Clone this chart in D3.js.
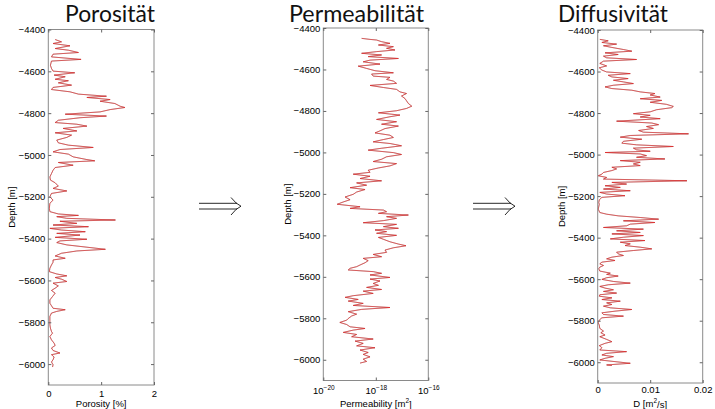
<!DOCTYPE html>
<html>
<head>
<meta charset="utf-8">
<script src="https://cdn.jsdelivr.net/npm/d3@7"></script>
<style>
    body { margin: 0; background: #fff; }
    text { font-family: "Liberation Sans", Arial, sans-serif; }
</style>
</head>
<body>
<div id="chart"></div>
<script>
// depth in m, value per panel
const porosityDepth = [-4448,-4459,-4467,-4478,-4491,-4499,-4510,-4518,-4531,-4543,-4551,-4571,-4586,-4599,-4607,-4618,-4626,-4638,-4645,-4655,-4666,-4677,-4687,-4698,-4709,-4719,-4725,-4735,-4743,-4754,-4767,-4773,-4783,-4794,-4805,-4814,-4822,-4834,-4845,-4853,-4862,-4873,-4885,-4894,-4905,-4916,-4929,-4942,-4953,-4964,-4974,-4985,-4996,-5009,-5022,-5028,-5036,-5049,-5060,-5073,-5089,-5105,-5120,-5133,-5149,-5160,-5172,-5184,-5200,-5216,
    -5231,-5255,-5271,-5282,-5289,-5295,-5303,-5311,-5317,-5327,-5335,-5343,-5351,-5359,-5367,-5375,-5383,-5394,-5403,-5411,-5419,-5430,-5441,-5451,-5459,-5470,-5483,-5494,-5502,-5513,-5526,-5542,-5558,-5569,-5578,-5586,-5594,-5605,-5613,-5626,-5637,-5648,-5661,-5677,-5693,-5709,-5721,-5733,-5740,-5748,-5756,-5772,-5791,-5812,-5828,-5844,-5852,-5868,-5884,-5900,-5911,-5923,-5935,-5947,-5955,-5966,-5979,-5990,-6003,-6014];
const porosity = [0.13,0.25,0.09,0.41,0.13,0.38,0.57,0.09,0.06,0.62,0.06,0.04,0.06,0.09,0.50,0.11,0.32,0.13,0.38,0.19,0.44,0.09,0.06,0.41,0.57,1.10,0.73,1.17,0.98,1.26,1.36,1.45,1.17,0.98,0.32,1.10,0.60,0.19,0.13,0.54,0.73,0.28,0.54,0.13,0.44,0.35,0.16,0.19,0.38,0.85,0.22,0.09,0.38,0.47,0.73,0.88,0.19,0.47,0.13,0.09,0.06,0.03,0.04,0.13,0.19,0.09,0.35,0.06,0.03,0.09,
    0.03,0.02,0.03,0.19,0.57,0.16,0.35,1.27,0.22,0.54,0.09,0.76,0.03,0.25,0.70,0.16,0.60,0.13,0.73,0.22,0.16,0.35,0.73,1.08,0.54,0.25,0.13,0.32,0.09,0.09,0.06,0.03,0.02,0.16,0.35,0.13,0.25,0.35,0.09,0.19,0.13,0.06,0.13,0.08,0.03,0.03,0.06,0.09,0.32,0.16,0.06,0.03,0.03,0.03,0.04,0.06,0.08,0.03,0.06,0.11,0.13,0.06,0.09,0.22,0.06,0.11,0.09,0.06,0.09,0.08];

const permDepth = [-4450,-4455,-4458,-4466,-4474,-4482,-4490,-4498,-4506,-4514,-4522,-4530,-4538,-4547,-4555,-4563,-4574,-4584,-4595,-4606,-4616,-4622,-4632,-4638,-4648,-4656,-4667,-4677,-4687,-4696,-4708,-4716,-4728,-4740,-4751,-4764,-4777,-4788,-4799,-4809,-4820,-4828,-4841,-4852,-4864,-4873,-4885,-4896,-4906,-4917,-4928,-4938,-4949,-4957,-4968,-4980,-4989,-5001,-5010,-5021,-5033,-5044,-5054,-5065,-5075,-5086,-5096,-5105,-5115,-5126,-5137,-5147,-5158,-5170,-5179,-5191,-5202,-5215,-5228,-5239,-5250,
    -5262,-5270,-5278,-5286,-5294,-5302,-5310,-5318,-5329,-5339,-5347,-5358,-5366,-5374,-5382,-5390,-5400,-5410,-5419,-5431,-5442,-5450,-5460,-5471,-5482,-5492,-5503,-5511,-5522,-5532,-5543,-5551,-5559,-5567,-5575,-5583,-5591,-5603,-5611,-5620,-5632,-5641,-5651,-5661,-5669,-5680,-5691,-5699,-5709,-5717,-5728,-5738,-5748,-5757,-5768,-5780,-5789,-5801,-5809,-5820,-5830,-5841,-5849,-5857,-5868,-5878,-5889,-5900,-5910,-5921,-5933,-5942,-5953,-5965,-5974,-5986,-5997,-6008,-6016];
// log10 of permeability in m^2
const permLog10 = [-18.54,-18.22,-17.97,-17.78,-17.46,-17.90,-17.33,-17.59,-17.27,-17.97,-18.54,-17.78,-18.29,-17.14,-18.22,-18.48,-17.84,-18.67,-18.35,-18.03,-17.33,-18.16,-18.10,-17.46,-17.59,-17.33,-17.21,-18.22,-17.71,-17.21,-17.08,-16.83,-17.02,-16.89,-16.83,-16.76,-16.63,-16.83,-17.21,-17.90,-17.08,-17.46,-17.97,-17.21,-17.78,-17.14,-17.65,-17.84,-18.03,-17.46,-17.33,-17.71,-18.10,-17.46,-17.02,-17.78,-18.29,-17.33,-17.02,-17.59,-17.78,-18.10,-17.21,-17.46,-17.90,-18.29,-18.22,-18.86,-18.22,-18.60,-17.78,-18.73,-18.35,-18.98,-18.41,-18.73,-18.86,-19.17,-18.98,-19.24,-19.47,
    -18.60,-18.98,-17.71,-17.59,-17.90,-16.76,-17.59,-17.21,-17.71,-18.48,-17.21,-17.71,-17.14,-18.03,-17.59,-17.97,-17.21,-17.90,-17.71,-17.46,-17.14,-16.85,-17.33,-17.65,-17.59,-18.10,-17.78,-18.48,-18.29,-18.41,-18.60,-18.73,-18.98,-19.05,-18.10,-17.78,-18.22,-17.46,-18.22,-17.84,-18.10,-17.90,-18.35,-17.78,-18.48,-18.10,-18.86,-19.17,-18.67,-19.05,-18.48,-18.86,-17.46,-18.54,-19.05,-18.73,-18.92,-19.05,-19.11,-19.37,-19.11,-18.98,-18.41,-18.86,-19.24,-18.73,-18.92,-18.10,-18.79,-18.48,-18.73,-18.03,-18.60,-18.29,-18.48,-18.22,-18.48,-18.35,-18.60];

const diffDepth = [-4445,-4452,-4460,-4468,-4476,-4484,-4494,-4502,-4510,-4518,-4526,-4534,-4542,-4550,-4561,-4573,-4582,-4593,-4602,-4610,-4618,-4626,-4634,-4642,-4650,-4658,-4666,-4674,-4682,-4690,-4698,-4706,-4713,-4723,-4731,-4739,-4748,-4758,-4768,-4774,-4784,-4794,-4803,-4811,-4819,-4827,-4839,-4848,-4856,-4865,-4874,-4884,-4892,-4900,-4908,-4916,-4926,-4936,-4945,-4953,-4961,-4969,-4977,-4984,-4990,-4997,-5005,-5013,-5021,-5029,-5037,-5045,-5053,-5061,-5069,-5077,-5086,-5094,-5102,-5110,-5118,-5126,-5134,-5142,-5150,-5158,-5166,-5174,-5182,-5190,-5198,-5206,-5218,-5231,
    -5239,-5263,-5279,-5287,-5295,-5303,-5311,-5319,-5327,-5335,-5343,-5351,-5359,-5367,-5375,-5382,-5390,-5398,-5406,-5414,-5422,-5430,-5438,-5446,-5454,-5462,-5470,-5478,-5486,-5494,-5502,-5510,-5518,-5526,-5534,-5542,-5550,-5561,-5571,-5577,-5585,-5593,-5601,-5611,-5619,-5627,-5635,-5643,-5651,-5659,-5667,-5675,-5682,-5690,-5698,-5706,-5714,-5722,-5730,-5738,-5746,-5754,-5762,-5770,-5778,-5786,-5797,-5810,-5821,-5837,-5850,-5858,-5869,-5877,-5890,-5901,-5909,-5920,-5930,-5941,-5949,-5957,-5965,-5973,-5981,-5989,-5997,-6005,-6013,-6016];
// diffusivity in m^2/s
const diffusivity = [0.0004,0.0020,0.0008,0.0036,0.0011,0.0027,0.0049,0.0065,0.0014,0.0039,0.0011,0.0017,0.0074,0.0011,0.0004,0.0017,0.0003,0.0008,0.0017,0.0062,0.0020,0.0027,0.0058,0.0030,0.0049,0.0068,0.0030,0.0014,0.0027,0.0065,0.0081,0.0109,0.0100,0.0119,0.0081,0.0122,0.0100,0.0131,0.0144,0.0141,0.0112,0.0100,0.0068,0.0100,0.0081,0.0119,0.0036,0.0103,0.0116,0.0093,0.0106,0.0078,0.0087,0.0173,0.0062,0.0043,0.0084,0.0049,0.0046,0.0074,0.0144,0.0068,0.0074,0.0100,0.0014,0.0081,0.0093,0.0074,0.0128,0.0043,0.0081,0.0068,0.0081,0.0027,0.0036,0.0027,0.0011,0.0008,0.0001,0.0017,0.0011,0.0170,0.0027,0.0055,0.0014,0.0043,0.0011,0.0062,0.0004,0.0017,0.0052,0.0008,0.0003,0.0002,
    0.0003,0.0001,0.0004,0.0017,0.0039,0.0081,0.0116,0.0049,0.0109,0.0062,0.0055,0.0011,0.0087,0.0036,0.0081,0.0027,0.0087,0.0049,0.0024,0.0090,0.0043,0.0062,0.0052,0.0081,0.0103,0.0068,0.0036,0.0039,0.0049,0.0027,0.0017,0.0033,0.0008,0.0004,0.0011,0.0004,0.0002,0.0004,0.0024,0.0017,0.0039,0.0017,0.0008,0.0030,0.0062,0.0020,0.0004,0.0014,0.0030,0.0011,0.0036,0.0004,0.0003,0.0027,0.0008,0.0043,0.0017,0.0027,0.0011,0.0024,0.0065,0.0033,0.0008,0.0011,0.0049,0.0008,0.0003,0.0001,0.0003,0.0004,0.0011,0.0006,0.0014,0.0004,0.0017,0.0027,0.0014,0.0003,0.0008,0.0004,0.0055,0.0017,0.0008,0.0030,0.0014,0.0004,0.0033,0.0062,0.0017,0.0027];

const depthTicks = [-4400, -4600, -4800, -5000, -5200, -5400, -5600, -5800, -6000];
const porosityTicks = [0, 1, 2];
const permTicks = [1e-20, 1e-18, 1e-16];
const diffTicks = [0, 0.01, 0.02];

const width = 715, height = 409;
const fontSize = "9.5px";

const svg = d3
    .select("#chart")
    .append("svg")
    .attr("width", width)
    .attr("height", height);

function drawPanel(p) {
    const y = d3.scaleLinear().domain([-6100, -4400]).range([p.bottom, p.top]);
    const x = p.x.range([p.left, p.right]);
    const g = svg.append("g");

    const pts = p.depth.map((d, i) => ({ depth: d, v: p.values[i] }));
    const line = d3
        .line()
        .x((d) => x(p.map(d.v)))
        .y((d) => y(d.depth));

    // measured (black) below, model (red) on top
    g.append("path")
        .datum(pts)
        .attr("fill", "none")
        .attr("stroke", "#000")
        .attr("stroke-width", 0.35)
        .attr("d", line);
    g.append("path")
        .datum(pts)
        .attr("fill", "none")
        .attr("stroke", "#ff2020")
        .attr("stroke-width", 0.55)
        .attr("d", line);

    // box
    g.append("rect")
        .attr("x", p.left)
        .attr("y", p.top)
        .attr("width", p.right - p.left)
        .attr("height", p.bottom - p.top)
        .attr("fill", "none")
        .attr("stroke", "#8a8a8a")
        .attr("stroke-width", 1);

    g.append("g")
        .attr("transform", `translate(${p.left},0)`)
        .call(d3.axisLeft(y).tickValues(depthTicks).tickSizeInner(-3).tickSizeOuter(0).tickPadding(3).tickFormat(d3.format("d")));
    g.append("g")
        .attr("transform", `translate(${p.right},0)`)
        .call(d3.axisRight(y).tickValues(depthTicks).tickSizeInner(-3).tickSizeOuter(0).tickFormat(""));
    const xAxis = g
        .append("g")
        .attr("transform", `translate(0,${p.bottom})`)
        .call(d3.axisBottom(x).tickValues(p.ticks).tickSizeInner(-3).tickSizeOuter(0).tickPadding(p.pad).tickFormat(p.fmt || ""));
    g.append("g")
        .attr("transform", `translate(0,${p.top})`)
        .call(d3.axisTop(x).tickValues(p.ticks).tickSizeInner(-3).tickSizeOuter(0).tickFormat(""));

    g.selectAll(".domain").remove();
    g.selectAll(".tick line").attr("stroke", "#666");
    g.selectAll(".tick text")
        .attr("fill", "#000")
        .style("font-size", fontSize)
        .style("font-family", '"Liberation Sans", Arial, sans-serif');

    if (p.logLabels) {
        xAxis.selectAll(".tick text").each(function (d) {
            const t = d3.select(this).text(null);
            t.append("tspan").text("10");
            t.append("tspan")
                .attr("dy", "-0.6em")
                .style("font-size", "6.5px")
                .text("\u2212" + Math.round(-Math.log10(d)));
        });
    }

    // depth label
    g.append("text")
        .attr("transform", `translate(${p.ylabX},${(p.top + p.bottom) / 2}) rotate(-90)`)
        .attr("text-anchor", "middle")
        .style("font-size", fontSize)
        .text("Depth [m]");

    const xl = g
        .append("text")
        .attr("x", (p.left + p.right) / 2)
        .attr("y", 406.5)
        .attr("text-anchor", "middle")
        .style("font-size", fontSize);
    p.xlabel.forEach((s) => {
        const ts = xl.append("tspan").text(s.t);
        if (s.sup) ts.attr("dy", "-0.5em").style("font-size", "6.5px");
        if (s.after) ts.attr("dy", "0.5em");
    });

    svg.append("text")
        .attr("x", p.titleX)
        .attr("y", 21.5)
        .attr("textLength", p.titleW)
        .attr("lengthAdjust", "spacingAndGlyphs")
        .style("font-family", "Lato, 'Open Sans', sans-serif")
        .style("font-size", "23.5px")
        .attr("fill", "#111")
        .text(p.title);
}

drawPanel({
    title: "Porosität", titleX: 65, titleW: 90,
    left: 48.3, right: 154, top: 29.5, bottom: 385,
    depth: porosityDepth, values: porosity, map: (v) => v,
    x: d3.scaleLinear().domain([0, 2]), ticks: porosityTicks, fmt: d3.format("d"), pad: 5,
    ylabX: 14.5,
    xlabel: [{ t: "Porosity [%]" }],
});

drawPanel({
    title: "Permeabilität", titleX: 289, titleW: 135,
    left: 323.3, right: 428.3, top: 28, bottom: 380.5,
    depth: permDepth, values: permLog10, map: (v) => Math.pow(10, v),
    x: d3.scaleLog().domain([1e-20, 1e-16]), ticks: permTicks, fmt: () => "x", pad: 7, logLabels: true,
    ylabX: 290.5,
    xlabel: [{ t: "Permeability [m" }, { t: "2", sup: true }, { t: "]", after: true }],
});

drawPanel({
    title: "Diffusivität", titleX: 558, titleW: 110,
    left: 597.7, right: 702.7, top: 30, bottom: 383,
    depth: diffDepth, values: diffusivity, map: (v) => v,
    x: d3.scaleLinear().domain([0, 0.02]), ticks: diffTicks, fmt: (d) => (d === 0 ? "0" : d3.format(".2f")(d)), pad: 3.5,
    ylabX: 564.5,
    xlabel: [{ t: "D [m" }, { t: "2", sup: true }, { t: "/s]", after: true }],
});

// implication arrows between panels
[[199, 241], [473, 515]].forEach(([x0, x1]) => {
    const a = svg.append("g").attr("fill", "none").attr("stroke", "#111").attr("stroke-width", 0.9);
    a.append("line").attr("x1", x0).attr("x2", x1 - 4).attr("y1", 203.3).attr("y2", 203.3);
    a.append("line").attr("x1", x0).attr("x2", x1 - 4).attr("y1", 209).attr("y2", 209);
    a.append("path").attr("d", `M${x1 - 10},197.5 Q${x1 - 5},204 ${x1},206.2 Q${x1 - 5},208.4 ${x1 - 10},215`);
});
</script>
</body>
</html>
